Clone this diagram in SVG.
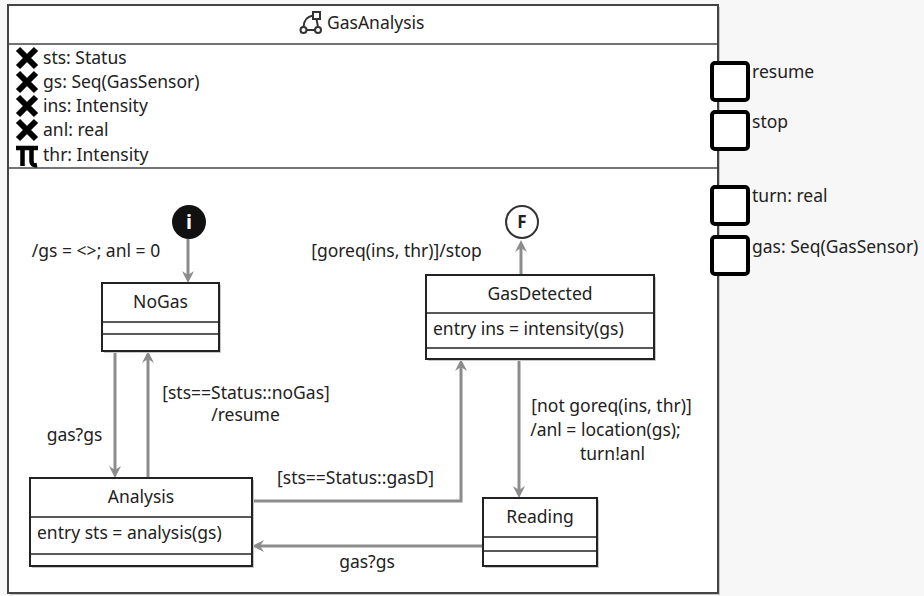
<svg xmlns="http://www.w3.org/2000/svg" width="924" height="596" viewBox="0 0 924 596">
<defs>
<style>
text{font-family:"Noto Sans","Open Sans","DejaVu Sans",sans-serif;font-size:17.5px;fill:#222}
.mid{text-anchor:middle}
.node{fill:#fff;stroke:#222;stroke-width:2}
.shadow{fill:#c8c8c8}
.sep{stroke:#222;stroke-width:1.5}
.conn{fill:none;stroke:#8c8c8c;stroke-width:3}
.port{fill:#fff;stroke:#000;stroke-width:4}
.ico{stroke:#000;stroke-width:6;fill:none}
</style>
<marker id="arr" viewBox="0 0 12 12" refX="6" refY="6" markerWidth="12" markerHeight="12" markerUnits="userSpaceOnUse" orient="auto">
<path d="M0,0 L12,6 L0,12 L4,6 Z" fill="#8c8c8c"/>
</marker>
</defs>
<rect x="0" y="0" width="924" height="596" fill="#f7f7f7"/>
<g id="GasAnalysis">
<rect x="10" y="7" width="710" height="588" class="shadow"/>
<rect x="8" y="5" width="710" height="588" fill="#fff" stroke="#444" stroke-width="2"/>
<line x1="8" y1="44" x2="718" y2="44" stroke="#444" stroke-width="1.5"/>
<line x1="8" y1="168" x2="718" y2="168" stroke="#444" stroke-width="1.5"/>
<g fill="none" stroke="#333" stroke-width="2">
<rect x="313" y="12" width="7" height="7"/>
<circle cx="303.5" cy="30" r="3"/>
<circle cx="318" cy="30" r="3"/>
<line x1="306.5" y1="30" x2="315" y2="30"/>
<path d="M303.5,27 Q304,17 313,15.5"/>
<line x1="316.5" y1="19" x2="318" y2="27"/>
</g>
<text x="327" y="29">GasAnalysis</text>
<g id="icons">
<path class="ico" d="M18,49 L36,67 M36,49 L18,67"/>
<path class="ico" d="M18,73 L36,91 M36,73 L18,91"/>
<path class="ico" d="M18,97 L36,115 M36,97 L18,115"/>
<path class="ico" d="M18,121 L36,139 M36,121 L18,139"/>
<path d="M16,148 H38 M22.5,148 V166 M31.5,148 V161 Q31.5,166 37,165" stroke="#000" stroke-width="4.5" fill="none"/>
</g>
<text x="43" y="64">sts: Status</text>
<text x="43" y="88">gs: Seq(GasSensor)</text>
<text x="43" y="112">ins: Intensity</text>
<text x="43" y="136">anl: real</text>
<text x="43" y="161">thr: Intensity</text>
</g>
<g id="ports">
<g id="port-resume"><rect x="712" y="63" width="36" height="37" rx="3" class="port"/><text x="752" y="78">resume</text></g>
<g id="port-stop"><rect x="712" y="112" width="36" height="37" rx="3" class="port"/><text x="752" y="128">stop</text></g>
<g id="port-turn"><rect x="712" y="187" width="36" height="37" rx="3" class="port"/><text x="752" y="202">turn: real</text></g>
<g id="port-gas"><rect x="712" y="237" width="36" height="37" rx="3" class="port"/><text x="752" y="253">gas: Seq(GasSensor)</text></g>
</g>
<g id="connectors">
<path class="conn" d="M188,239 V277" marker-end="url(#arr)"/>
<path class="conn" d="M115,351 V472" marker-end="url(#arr)"/>
<path class="conn" d="M148,478 V357" marker-end="url(#arr)"/>
<path class="conn" d="M252,501 H461 V365" marker-end="url(#arr)"/>
<path class="conn" d="M521,275 V246" marker-end="url(#arr)"/>
<path class="conn" d="M519,359 V492" marker-end="url(#arr)"/>
<path class="conn" d="M483,546 H258" marker-end="url(#arr)"/>
<text x="96" y="257" class="mid">/gs = &lt;&gt;; anl = 0</text>
<text x="396.5" y="257" class="mid">[goreq(ins, thr)]/stop</text>
<text x="74.5" y="441" class="mid">gas?gs</text>
<text x="246" y="399" class="mid">[sts==Status::noGas]</text>
<text x="245.5" y="421" class="mid">/resume</text>
<text x="355.5" y="484" class="mid">[sts==Status::gasD]</text>
<text x="611.5" y="412" class="mid">[not goreq(ins, thr)]</text>
<text x="605.5" y="436" class="mid">/anl = location(gs);</text>
<text x="612.5" y="460" class="mid">turn!anl</text>
<text x="367" y="568" class="mid">gas?gs</text>
</g>
<g id="initial">
<circle cx="189" cy="222" r="17" fill="#111"/>
<text x="189" y="229" class="mid" style="fill:#fff;font-weight:bold;font-size:20px">i</text>
</g>
<g id="final">
<circle cx="522" cy="222" r="16" fill="#fff" stroke="#333" stroke-width="2"/>
<text x="522" y="228" class="mid" style="font-weight:bold;font-size:17px">F</text>
</g>
<g id="NoGas">
<rect x="104" y="285" width="117" height="68" class="shadow"/>
<rect x="102" y="283" width="117" height="68" class="node"/>
<line x1="102" y1="322" x2="219" y2="322" class="sep"/>
<line x1="102" y1="334" x2="219" y2="334" class="sep"/>
<text x="160.5" y="308" class="mid">NoGas</text>
</g>
<g id="GasDetected">
<rect x="428" y="277" width="228" height="84" class="shadow"/>
<rect x="426" y="275" width="228" height="84" class="node"/>
<line x1="426" y1="313" x2="654" y2="313" class="sep"/>
<line x1="426" y1="348" x2="654" y2="348" class="sep"/>
<text x="540" y="300" class="mid">GasDetected</text>
<text x="433" y="335">entry ins = intensity(gs)</text>
</g>
<g id="Analysis">
<rect x="32" y="480" width="222" height="88" class="shadow"/>
<rect x="30" y="478" width="222" height="88" class="node"/>
<line x1="30" y1="517" x2="252" y2="517" class="sep"/>
<line x1="30" y1="554" x2="252" y2="554" class="sep"/>
<text x="141" y="503" class="mid">Analysis</text>
<text x="37" y="539">entry sts = analysis(gs)</text>
</g>
<g id="Reading">
<rect x="485" y="500" width="114" height="68" class="shadow"/>
<rect x="483" y="498" width="114" height="68" class="node"/>
<line x1="483" y1="537" x2="597" y2="537" class="sep"/>
<line x1="483" y1="551" x2="597" y2="551" class="sep"/>
<text x="540" y="523" class="mid">Reading</text>
</g>
</svg>
